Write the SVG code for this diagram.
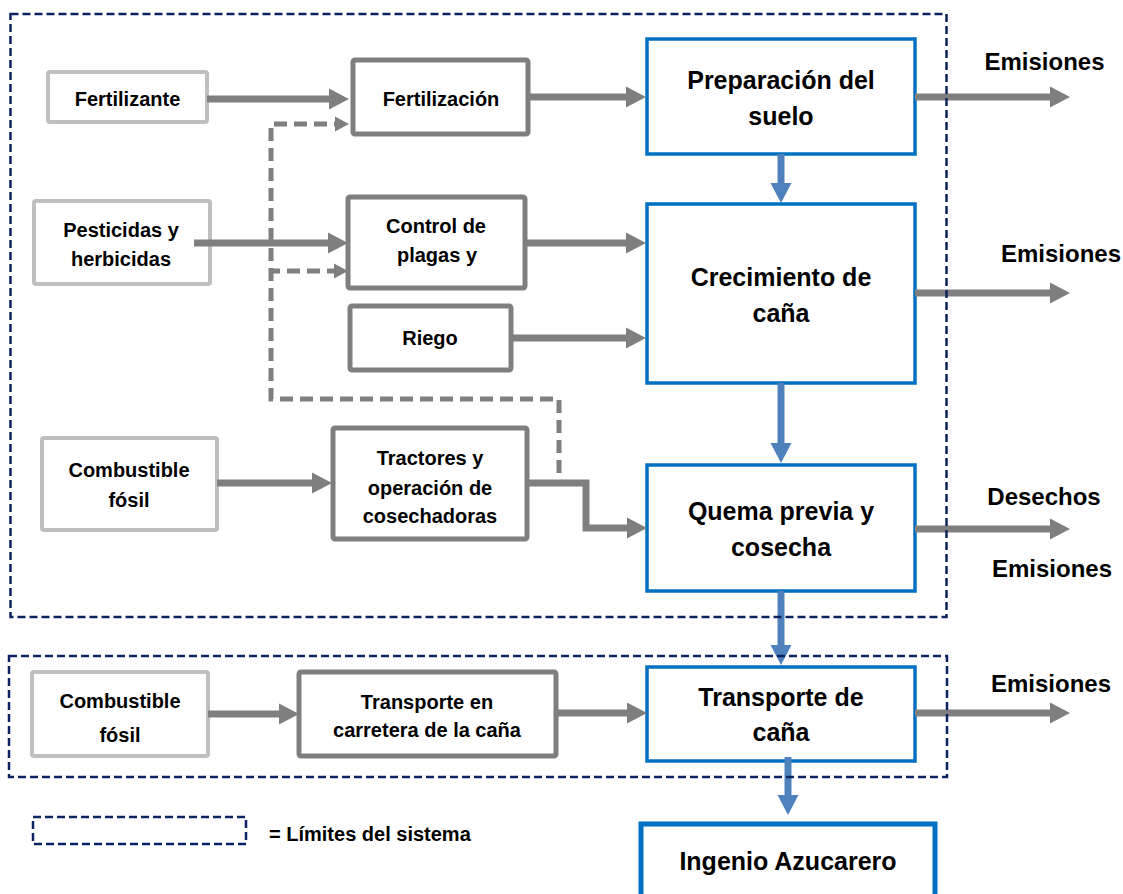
<svg xmlns="http://www.w3.org/2000/svg" width="1123" height="894" viewBox="0 0 1123 894">
  <style>
    .input { fill: #ffffff; stroke: #bfbfbf; stroke-width: 4; }
    .proc { fill: #ffffff; stroke: #7f7f7f; stroke-width: 5; }
    .stage { fill: #ffffff; stroke: #0070c0; stroke-width: 3.5; }
    .final { fill: #ffffff; stroke: #0070c0; stroke-width: 5; }
    text { font-family: "Liberation Sans", Arial, sans-serif; font-weight: bold; fill: #000000; }
    .s { font-size: 20px; text-anchor: middle; }
    .b { font-size: 25px; text-anchor: middle; }
    .o { font-size: 24px; text-anchor: middle; }
    .flow { fill: none; stroke: #7f7f7f; stroke-width: 7; marker-end: url(#headGray); }
    .main { fill: none; stroke: #4f81bd; stroke-width: 7; marker-end: url(#headBlue); }
    .aux { fill: none; stroke: #7f7f7f; stroke-width: 5; stroke-dasharray: 13 7; marker-end: url(#headDash); }
    .bound { fill: none; stroke: #0b2461; stroke-width: 2.5; stroke-dasharray: 8 4; }
  </style>
  <defs>
    <marker id="headGray" markerUnits="userSpaceOnUse" markerWidth="20" markerHeight="22" viewBox="0 -11 20 22" refX="0" refY="0" orient="auto">
      <path d="M0,-10.5 L20,0 L0,10.5 Z" fill="#7f7f7f"/>
    </marker>
    <marker id="headBlue" markerUnits="userSpaceOnUse" markerWidth="20" markerHeight="22" viewBox="0 -11 20 22" refX="0" refY="0" orient="auto">
      <path d="M0,-10.5 L20,0 L0,10.5 Z" fill="#4f81bd"/>
    </marker>
    <marker id="headDash" markerUnits="userSpaceOnUse" markerWidth="14" markerHeight="16" viewBox="0 -8 14 16" refX="0" refY="0" orient="auto">
      <path d="M0,-7.5 L14,0 L0,7.5 Z" fill="#7f7f7f"/>
    </marker>
  </defs>

  <rect width="1123" height="894" fill="#ffffff"/>

  <!-- inputs -->
  <g id="fertilizante">
    <rect class="input" x="48" y="72" width="159" height="50" rx="2"/>
    <text class="s" x="127.5" y="106">Fertilizante</text>
  </g>
  <g id="pesticidas">
    <rect class="input" x="34" y="201" width="176" height="83" rx="2"/>
    <text class="s" x="121" y="237">Pesticidas y</text>
    <text class="s" x="121" y="266">herbicidas</text>
  </g>
  <g id="combustible-campo">
    <rect class="input" x="42" y="438" width="175" height="92" rx="2"/>
    <text class="s" x="129" y="477">Combustible</text>
    <text class="s" x="129" y="507">fósil</text>
  </g>
  <g id="combustible-transporte">
    <rect class="input" x="32" y="672" width="176" height="84" rx="2"/>
    <text class="s" x="120" y="708">Combustible</text>
    <text class="s" x="120" y="742">fósil</text>
  </g>

  <!-- field operations -->
  <g id="fertilizacion">
    <rect class="proc" x="353" y="60" width="175" height="74" rx="2"/>
    <text class="s" x="441" y="106">Fertilización</text>
  </g>
  <g id="control-plagas">
    <rect class="proc" x="348" y="197" width="177" height="91" rx="2"/>
    <text class="s" x="436" y="233">Control de</text>
    <text class="s" x="437" y="262">plagas y</text>
  </g>
  <g id="riego">
    <rect class="proc" x="350" y="306" width="161" height="64" rx="2"/>
    <text class="s" x="430" y="345">Riego</text>
  </g>
  <g id="tractores">
    <rect class="proc" x="333" y="428" width="194" height="111" rx="2"/>
    <text class="s" x="430" y="465">Tractores y</text>
    <text class="s" x="430" y="495">operación de</text>
    <text class="s" x="430" y="523">cosechadoras</text>
  </g>
  <g id="transporte-carretera">
    <rect class="proc" x="299" y="672" width="257" height="84" rx="2"/>
    <text class="s" x="427" y="709">Transporte en</text>
    <text class="s" x="427" y="737">carretera de la caña</text>
  </g>

  <!-- main stages -->
  <g id="preparacion">
    <rect class="stage" x="647" y="39" width="268" height="115"/>
    <text class="b" x="781" y="89">Preparación del</text>
    <text class="b" x="781" y="125">suelo</text>
  </g>
  <g id="crecimiento">
    <rect class="stage" x="647" y="204" width="268" height="179"/>
    <text class="b" x="781" y="286">Crecimiento de</text>
    <text class="b" x="781" y="322">caña</text>
  </g>
  <g id="quema">
    <rect class="stage" x="647" y="465" width="268" height="126"/>
    <text class="b" x="781" y="520">Quema previa y</text>
    <text class="b" x="781" y="556">cosecha</text>
  </g>
  <g id="transporte-cana">
    <rect class="stage" x="647" y="667" width="268" height="94"/>
    <text class="b" x="781" y="706">Transporte de</text>
    <text class="b" x="781" y="741">caña</text>
  </g>
  <g id="ingenio">
    <rect class="final" x="641" y="824" width="294" height="80"/>
    <text class="b" x="788" y="870">Ingenio Azucarero</text>
  </g>

  <!-- outputs -->
  <g id="salidas">
    <text class="o" x="1044.5" y="70">Emisiones</text>
    <text class="o" x="1061" y="262">Emisiones</text>
    <text class="o" x="1044" y="505">Desechos</text>
    <text class="o" x="1052" y="577">Emisiones</text>
    <text class="o" x="1051" y="692">Emisiones</text>
  </g>

  <!-- connectors -->
  <g id="connectors">
    <line class="flow" x1="207" y1="99" x2="329" y2="99"/>
    <line class="flow" x1="528" y1="97" x2="626" y2="97"/>
    <line class="flow" x1="915" y1="97" x2="1050" y2="97"/>
    <line class="flow" x1="194" y1="243" x2="328" y2="243"/>
    <line class="flow" x1="525" y1="243" x2="626" y2="243"/>
    <line class="flow" x1="511" y1="338" x2="626" y2="338"/>
    <line class="flow" x1="915" y1="293" x2="1050" y2="293"/>
    <line class="flow" x1="217" y1="483" x2="312" y2="483"/>
    <polyline class="flow" points="527,483 586,483 586,528 627,528"/>
    <line class="flow" x1="915" y1="529" x2="1050" y2="529"/>
    <line class="flow" x1="208" y1="714" x2="279" y2="714"/>
    <line class="flow" x1="556" y1="713" x2="627" y2="713"/>
    <line class="flow" x1="915" y1="713" x2="1050" y2="713"/>

    <line class="main" x1="781" y1="154" x2="781" y2="183"/>
    <line class="main" x1="781" y1="383" x2="781" y2="443"/>
    <line class="main" x1="781" y1="591" x2="781" y2="645"/>
    <line class="main" x1="788" y1="757" x2="788" y2="795"/>

    <polyline class="aux" points="559,473 559,399 271,399 271,124 335,124"/>
    <line class="aux" x1="271" y1="271" x2="334" y2="271" stroke-dashoffset="4"/>
  </g>

  <!-- system boundaries and legend -->
  <g id="limites">
    <rect class="bound" x="10.5" y="14" width="936" height="603"/>
    <rect class="bound" x="9" y="656" width="938" height="121"/>
    <rect class="bound" x="33" y="817" width="213" height="27"/>
    <text x="269" y="841" font-size="20">= Límites del sistema</text>
  </g>
</svg>
